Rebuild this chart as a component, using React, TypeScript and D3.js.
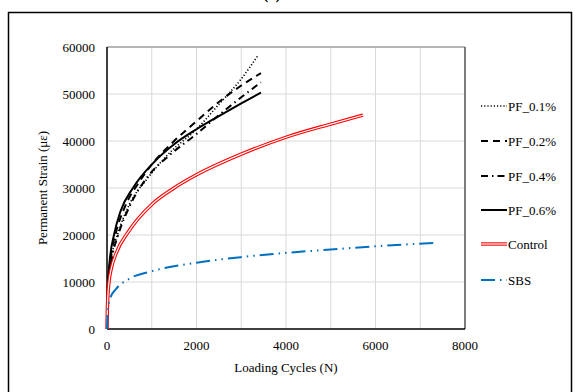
import React from 'react';
import * as d3 from 'd3';

// values: [loading cycles, permanent strain]
const pf01: [number, number][] = [[0, 0], [10, 4500], [40, 10000], [100, 15000], [250, 20500], [500, 26500], [900, 32000], [1400, 37500], [2000, 42500], [2500, 47800], [3000, 53200], [3380, 58300]];
const pf02: [number, number][] = [[0, 0], [10, 5000], [30, 10000], [80, 15000], [200, 20500], [400, 26000], [700, 31000], [1000, 35000], [1500, 40000], [2000, 44200], [2500, 48300], [3000, 51800], [3440, 54450]];
const pf04: [number, number][] = [[0, 0], [10, 4500], [40, 10000], [100, 14500], [250, 20000], [500, 26000], [900, 32300], [1400, 37000], [2000, 41500], [2500, 45500], [3000, 49300], [3440, 52500]];
const pf06: [number, number][] = [[0, 0], [10, 6000], [25, 10000], [60, 14500], [156, 20000], [300, 25000], [580, 30000], [1030, 35300], [1500, 39300], [2000, 42500], [2500, 45300], [3000, 48000], [3440, 50300]];
const control: [number, number][] = [[0, 0], [5, 3000], [20, 7000], [45, 10000], [100, 13000], [200, 16000], [500, 21000], [1000, 26500], [1500, 30000], [2000, 32800], [3000, 37200], [4000, 40800], [5000, 43600], [5720, 45500]];
const sbs: [number, number][] = [[0, 0], [15, 3500], [40, 5500], [80, 6800], [200, 8500], [500, 10700], [1000, 12300], [2000, 14100], [3000, 15300], [4000, 16200], [5000, 16900], [6000, 17600], [7370, 18350]];

const xTicks = [0, 2000, 4000, 6000, 8000];
const yTicks = [0, 10000, 20000, 30000, 40000, 50000, 60000];
const xGrid = [1000, 2000, 3000, 4000, 5000, 6000, 7000, 8000];

const series = [
  { name: 'PF_0.1%', data: pf01, color: '#000', width: 1.6, dash: '1.2,2' },
  { name: 'PF_0.2%', data: pf02, color: '#000', width: 2, dash: '7,5' },
  { name: 'PF_0.4%', data: pf04, color: '#000', width: 2, dash: '7,4,1.5,4' },
  { name: 'PF_0.6%', data: pf06, color: '#000', width: 2, dash: null },
  { name: 'Control', data: control, color: '#ff0000', width: 3.4, dash: null, double: true },
  { name: 'SBS', data: sbs, color: '#0070c0', width: 2, dash: '14,5,1.5,5,1.5,5' },
];

const font = "'Liberation Serif', 'Times New Roman', 'DejaVu Serif', serif";

export default function App() {
  const x = d3.scaleLinear().domain([0, 8000]).range([107, 465]);
  const y = d3.scaleLinear().domain([0, 60000]).range([329, 47]);
  const line = d3.line<[number, number]>()
    .x(d => x(d[0]))
    .y(d => y(d[1]))
    .curve(d3.curveMonotoneX);

  const legendY = [106, 141, 176, 210, 244, 280];

  return (
    <svg width={579} height={392} style={{ position: 'absolute', left: 0, top: 0, background: '#fff', fontFamily: font }}>
      <rect x={8.5} y={12.5} width={563} height={400} fill="#fff" stroke="#000" strokeWidth={1.5} />
      <text x={272} y={-1} textAnchor="middle" fontSize={16} fontWeight="bold">(c)</text>

      {/* grid */}
      {xGrid.map(v => (
        <line key={'gx' + v} x1={x(v)} x2={x(v)} y1={y(0)} y2={y(60000)} stroke="#d9d9d9" strokeWidth={1} />
      ))}
      {yTicks.slice(1).map(v => (
        <line key={'gy' + v} x1={x(0)} x2={x(8000)} y1={y(v)} y2={y(v)} stroke="#d9d9d9" strokeWidth={1} />
      ))}
      <line x1={x(0)} x2={x(8000)} y1={y(60000)} y2={y(60000)} stroke="#7f7f7f" strokeWidth={1} />
      <line x1={x(8000)} x2={x(8000)} y1={y(0)} y2={y(60000)} stroke="#595959" strokeWidth={1.5} />
      <line x1={x(0)} x2={x(0)} y1={y(0)} y2={y(60000)} stroke="#000" strokeWidth={1.5} />
      <line x1={x(0)} x2={x(8000)} y1={y(0)} y2={y(0)} stroke="#000" strokeWidth={1.5} />

      {/* ticks */}
      {yTicks.map(v => (
        <text key={'ty' + v} x={95} y={y(v) + 4.5} textAnchor="end" fontSize={13}>{v}</text>
      ))}
      {xTicks.map(v => (
        <text key={'tx' + v} x={x(v)} y={350} textAnchor="middle" fontSize={13}>{v}</text>
      ))}
      <text x={286} y={372} textAnchor="middle" fontSize={13}>Loading Cycles (N)</text>
      <text transform="translate(47,188) rotate(-90)" textAnchor="middle" fontSize={13}>Permanent Strain (με)</text>

      {/* series */}
      {series.map(s => (
        <g key={s.name}>
          <path d={line(s.data) || ''} fill="none" stroke={s.color} strokeWidth={s.width}
            strokeDasharray={s.dash || undefined} />
          {s.double && <path d={line(s.data) || ''} fill="none" stroke="#fff" strokeWidth={1.2} />}
        </g>
      ))}

      {/* legend */}
      {series.map((s, i) => (
        <g key={'lg' + s.name}>
          <line x1={481} x2={507} y1={legendY[i]} y2={legendY[i]} stroke={s.color} strokeWidth={s.width}
            strokeDasharray={s.dash || undefined} />
          {s.double && <line x1={481} x2={507} y1={legendY[i]} y2={legendY[i]} stroke="#fff" strokeWidth={1.2} />}
          <text x={508} y={legendY[i] + 4.5} fontSize={13}>{s.name}</text>
        </g>
      ))}
    </svg>
  );
}
